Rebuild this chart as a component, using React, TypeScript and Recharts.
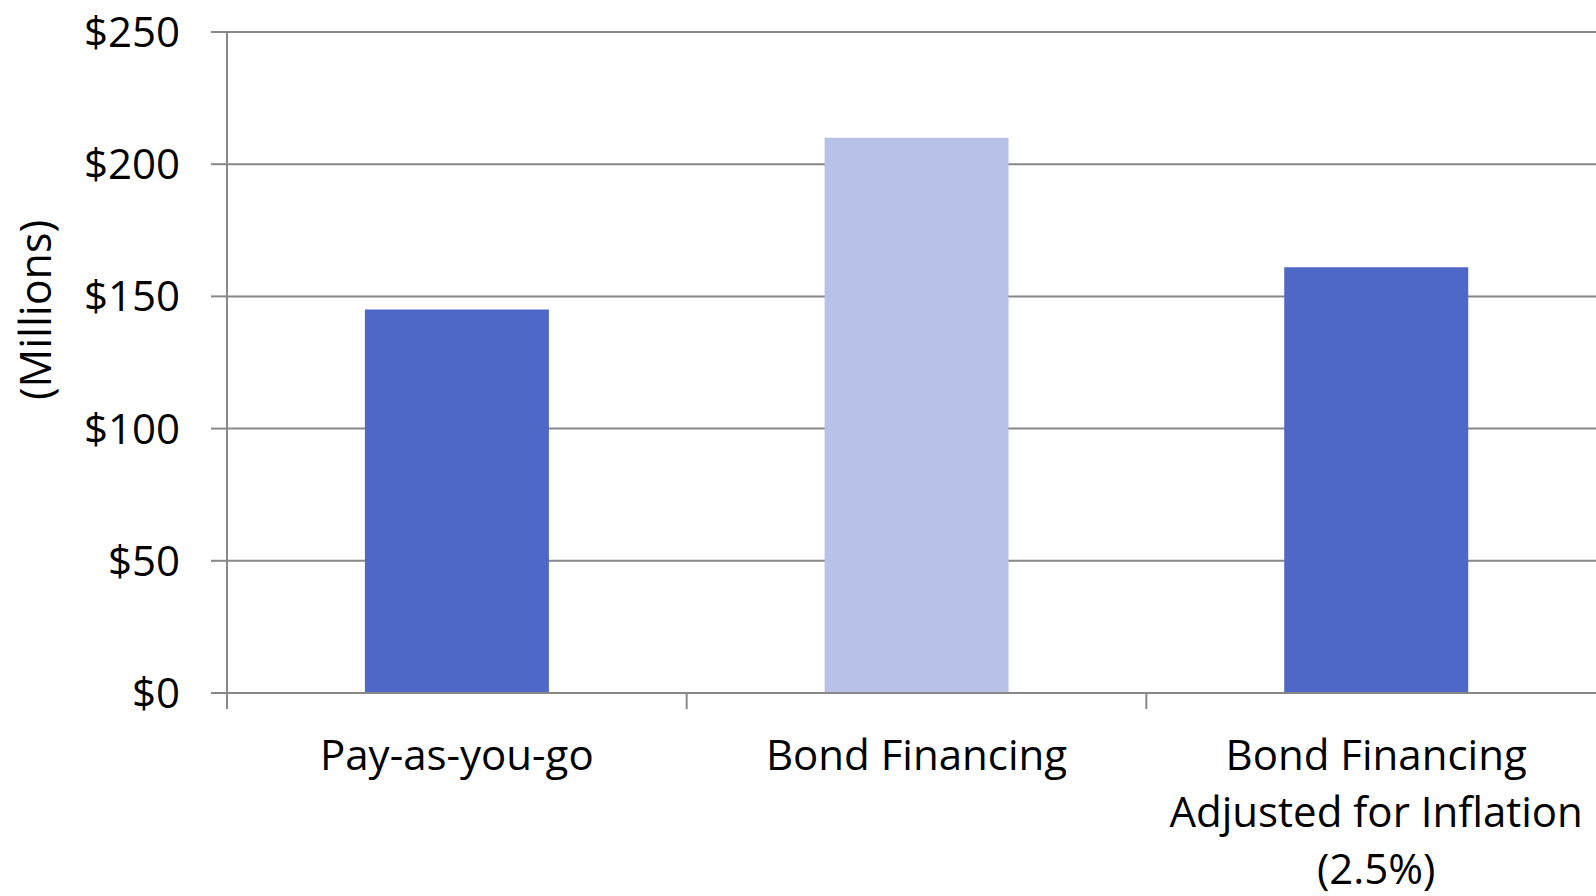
import { Bar, BarChart, CartesianGrid, Cell, XAxis, YAxis } from "recharts";

const categories = ["Pay-as-you-go", "Bond Financing", "Bond Financing\nAdjusted for Inflation\n(2.5%)"];
const costs = [145, 210, 161];
const barColors = ["#4F68C8", "#B8C2E8", "#4F68C8"];
const yTicks = [0, 50, 100, 150, 200, 250];

const GRID = "#888888";
const FONT = "'Open Sans', sans-serif";

const data = categories.map((name, i) => ({ name, cost: costs[i] }));

function CategoryTick(props: any) {
  const { x, y, payload } = props;
  const half = payload.offset ?? 0;
  const lines = String(payload.value).split("\n");
  return (
    <g>
      <line x1={x - half} x2={x - half} y1={y} y2={y + 16} stroke={GRID} strokeWidth={2} />
      {lines.map((line, i) => (
        <text
          key={i}
          x={x}
          y={y + 77 + i * 57}
          textAnchor="middle"
          fontSize={42}
          fontFamily={FONT}
          fill="#000"
        >
          {line}
        </text>
      ))}
    </g>
  );
}

function AxisTitle() {
  return (
    <text
      transform="rotate(-90 34 310)"
      x={34}
      y={310}
      textAnchor="middle"
      dominantBaseline="central"
      fontSize={43}
      fontFamily={FONT}
      fill="#000"
    >
      (Millions)
    </text>
  );
}

export default function App() {
  return (
    <div style={{ position: "absolute", left: 0, top: 0, width: 1596, height: 896, overflow: "hidden", background: "#fff" }}>
      <BarChart
        width={1606}
        height={896}
        data={data}
        margin={{ top: 32, right: 0, left: 0, bottom: 0 }}
        barCategoryGap="30%"
      >
        <CartesianGrid vertical={false} stroke={GRID} strokeWidth={2} />
        <XAxis
          dataKey="name"
          height={203}
          tickLine={false}
          tickSize={0}
          tickMargin={0}
          axisLine={{ stroke: GRID, strokeWidth: 2 }}
          tick={<CategoryTick />}
          interval={0}
        />
        <YAxis
          width={227}
          domain={[0, 250]}
          ticks={yTicks}
          interval={0}
          tickFormatter={(v) => `$${v}`}
          tickSize={16}
          tickMargin={31}
          tickLine={{ stroke: GRID, strokeWidth: 2 }}
          axisLine={{ stroke: GRID, strokeWidth: 2 }}
          tick={{ fontSize: 42, fontFamily: FONT, fill: "#000" }}
          label={<AxisTitle />}
        />
        <Bar dataKey="cost" isAnimationActive={false}>
          {data.map((_, i) => (
            <Cell key={i} fill={barColors[i]} />
          ))}
        </Bar>
      </BarChart>
    </div>
  );
}
